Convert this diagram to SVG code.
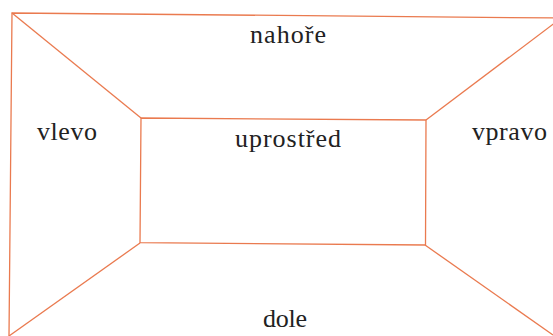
<svg xmlns="http://www.w3.org/2000/svg" width="553" height="336" viewBox="0 0 553 336">
<style>
.ln{fill:none;stroke:#ea7a4f;stroke-width:1.3;stroke-linejoin:miter}
</style>
<rect width="553" height="336" fill="#ffffff"/>
<g id="connectors">
<polyline class="ln" points="9,336 12,13 560,18"/>
<line class="ln" x1="12" y1="13" x2="141" y2="118"/>
<line class="ln" x1="426" y1="120" x2="560" y2="19"/>
<line class="ln" x1="140" y1="243" x2="9" y2="336"/>
<line class="ln" x1="425" y1="245" x2="553" y2="335"/>
</g>
<g id="uprostred">
<polygon class="ln" points="141,118 426,120 425.5,245 140,242.7"/>
<text x="235" y="147" font-family="Liberation Serif" font-size="26" fill="#222222" textLength="106" lengthAdjust="spacing">uprostřed</text>
</g>
<g id="nahore"><text x="250" y="43" font-family="Liberation Serif" font-size="26" fill="#222222" textLength="76" lengthAdjust="spacing">nahoře</text></g>
<g id="vlevo"><text x="37" y="140" font-family="Liberation Serif" font-size="26" fill="#222222" textLength="60" lengthAdjust="spacing">vlevo</text></g>
<g id="vpravo"><text x="472" y="140" font-family="Liberation Serif" font-size="26" fill="#222222" textLength="75" lengthAdjust="spacing">vpravo</text></g>
<g id="dole"><text x="263" y="327" font-family="Liberation Serif" font-size="26" fill="#222222" textLength="44" lengthAdjust="spacing">dole</text></g>
</svg>
